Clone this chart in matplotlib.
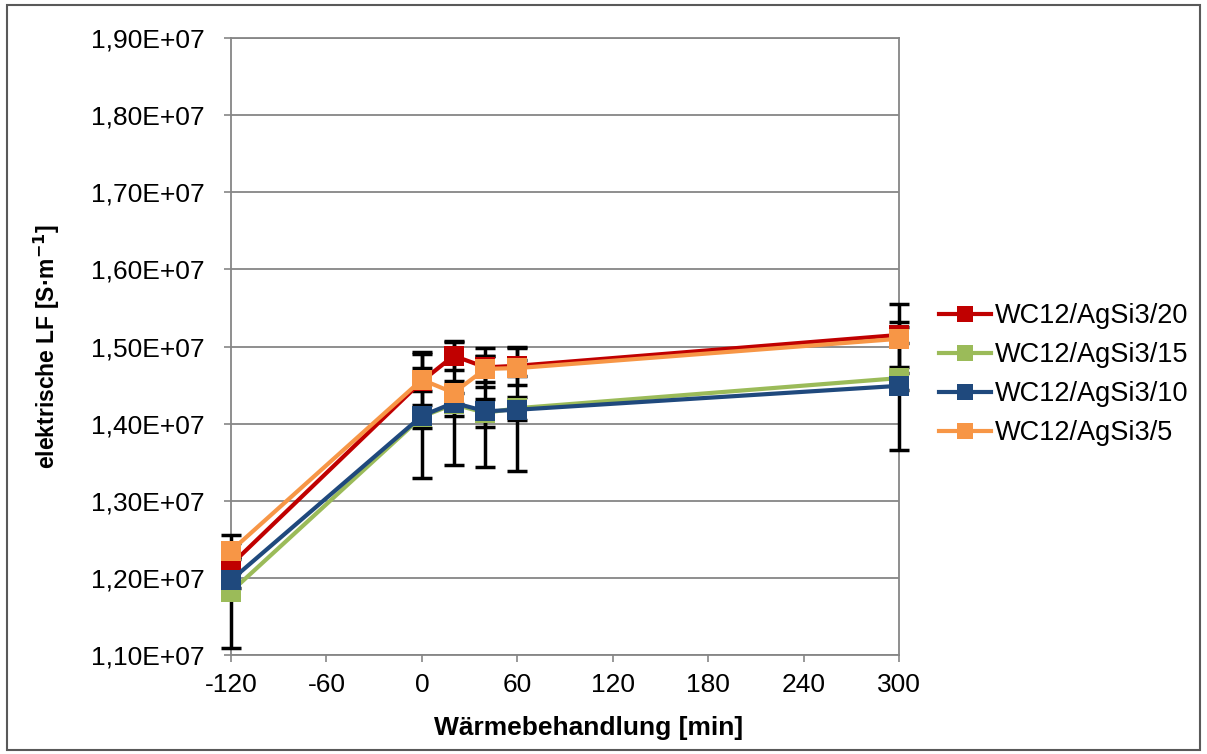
import matplotlib
matplotlib.use("Agg")
import matplotlib.pyplot as plt
from matplotlib.ticker import FuncFormatter, FixedLocator
from matplotlib.patches import Rectangle

# Heat-treatment time [min] and electrical conductivity [S/m]
time_min = [-120, 0, 20, 40, 60, 300]

series_names = ["WC12/AgSi3/20", "WC12/AgSi3/15", "WC12/AgSi3/10", "WC12/AgSi3/5"]

lf_20 = [1.217e7, 1.455e7, 1.488e7, 1.473e7, 1.475e7, 1.515e7]
lf_15 = [1.182e7, 1.409e7, 1.425e7, 1.414e7, 1.420e7, 1.459e7]
lf_10 = [1.197e7, 1.410e7, 1.427e7, 1.416e7, 1.418e7, 1.449e7]
lf_5 = [1.235e7, 1.457e7, 1.440e7, 1.471e7, 1.472e7, 1.510e7]

err_20 = [0.010e7, 0.038e7, 0.018e7, 0.025e7, 0.025e7, 0.010e7]
err_15 = [0.073e7, 0.015e7, 0.015e7, 0.018e7, 0.015e7, 0.015e7]
err_10 = [0.010e7, 0.080e7, 0.080e7, 0.072e7, 0.080e7, 0.083e7]
err_5 = [0.010e7, 0.015e7, 0.015e7, 0.017e7, 0.010e7, 0.045e7]

colors = ["#C00000", "#9BBB59", "#1F497D", "#F79646"]

x_ticks = [-120, -60, 0, 60, 120, 180, 240, 300]
y_ticks = [1.1e7, 1.2e7, 1.3e7, 1.4e7, 1.5e7, 1.6e7, 1.7e7, 1.8e7, 1.9e7]

plt.rcParams["font.family"] = ["Liberation Sans", "DejaVu Sans"]
plt.rcParams["axes.unicode_minus"] = False

W, H = 1207, 754
fig = plt.figure(figsize=(W / 100, H / 100), dpi=100)
ax = fig.add_axes([231 / W, 1 - 655 / H, (899 - 231) / W, (655 - 38) / H])

grid_col = "#868686"
values = [lf_20, lf_15, lf_10, lf_5]
errors = [err_20, err_15, err_10, err_5]

for vals, errs in zip(values, errors):
    eb = ax.errorbar(time_min, vals, yerr=errs, fmt="none", ecolor="black",
                     elinewidth=2.5, capsize=7.5, capthick=2.5, zorder=3)
    for artist in eb.lines[1] + eb.lines[2]:
        artist.set_clip_on(False)
for i, (name, vals, col) in enumerate(zip(series_names, values, colors)):
    ax.plot(time_min, vals, color=col, lw=3.0, marker="s", markersize=14.5,
            markeredgewidth=0, label=name, zorder=4 + i * 0.1, clip_on=False)

ax.set_xlim(-120, 300)
ax.set_ylim(1.1e7, 1.9e7)
ax.xaxis.set_major_locator(FixedLocator(x_ticks))
ax.yaxis.set_major_locator(FixedLocator(y_ticks))
ax.yaxis.set_major_formatter(FuncFormatter(lambda v, p: f"{v:.2E}".replace(".", ",")))

ax.grid(axis="y", color=grid_col, lw=1.3, zorder=0)
ax.set_axisbelow(True)
for s in ax.spines.values():
    s.set_color(grid_col)
    s.set_linewidth(1.3)

ax.tick_params(axis="both", direction="out", length=5, width=1.2, color=grid_col,
               labelsize=19, labelcolor="black")
ax.tick_params(axis="y", pad=14)
ax.tick_params(axis="x", pad=8)

ax.set_xlabel("Wärmebehandlung [min]", fontsize=19, fontweight="bold")
ax.xaxis.set_label_coords((589 - 231) / 668, -(716 - 655) / 617)
ax.set_ylabel("elektrische LF [S·m$^{\\mathbf{-1}}$]", fontsize=16.5, fontweight="bold")
ax.yaxis.set_label_coords(-(231 - 62) / 668, 0.5)

fig.legend(loc="upper left", bbox_to_anchor=(915 / W, 1 - 279 / H), frameon=False,
           fontsize=19.5, handlelength=1.9, handletextpad=0.15, labelspacing=0.48,
           markerscale=0.8)

# outer chart border
fig.patches.append(Rectangle((7 / W, 4 / H), (1200 - 7) / W, (749 - 4) / H,
                             transform=fig.transFigure, fill=False,
                             edgecolor="#595959", lw=1.5))

fig.savefig("out.png", dpi=100)
